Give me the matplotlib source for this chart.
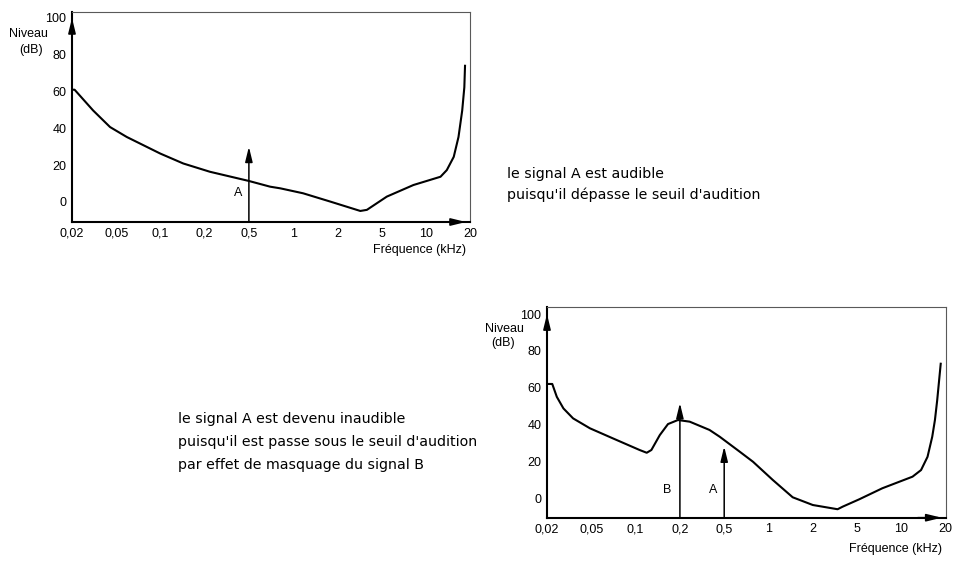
import numpy as np
import matplotlib
matplotlib.use("Agg")
import matplotlib.pyplot as plt

# axis ticks (kHz), evenly spaced on the drawing
FREQ_TICKS = [0.02, 0.05, 0.1, 0.2, 0.5, 1, 2, 5, 10, 20]
FREQ_LABELS = ["0,02", "0,05", "0,1", "0,2", "0,5", "1", "2", "5", "10", "20"]
LEVEL_TICKS = [0, 20, 40, 60, 80, 100]

# hearing threshold alone (top chart)
seuil_f = [0.02, 0.0211, 0.031, 0.044, 0.059, 0.0997, 0.143, 0.223, 0.5, 0.697,
           0.818, 1.17, 1.79, 3.22, 3.69, 5.43, 8.24, 12.6, 13.9, 15.5, 16.7,
           17.7, 18.3, 18.5]
seuil_db = [61, 61, 49.7, 40.7, 35.3, 26.3, 20.9, 16.4, 11.4, 8.3,
            7.4, 4.7, 0.2, -4.9, -4.3, 2.9, 9.2, 13.7, 17.3, 24.5, 35.3,
            49.7, 62.3, 74]

# threshold masked by signal B (bottom chart)
masque_f = [0.02, 0.0223, 0.0245, 0.0281, 0.0343, 0.0486, 0.0702, 0.1065, 0.119,
            0.128, 0.146, 0.166, 0.194, 0.245, 0.369, 0.456, 0.637, 0.785, 1.07,
            1.46, 2.0, 3.34, 3.71, 5.17, 7.42, 11.9, 13.6, 15.05, 16.2, 16.9,
            17.5, 18.5]
masque_db = [62, 62, 55, 48.7, 43.3, 37.9, 32.4, 26.1, 24.6,
             26.1, 34.2, 40.2, 42.4, 41.5, 37, 33.3, 25.2, 19.7, 9.8,
             0.4, -3.8, -6.1, -4.7, -0.7, 5.3, 11.6, 15.2, 22.4, 33.3, 42.4,
             53, 73]

# signals: (name, freq kHz, level dB, label x kHz, label y dB)
signaux_haut = [("A", 0.5, 30, 0.4, 5)]
signaux_bas = [("B", 0.2, 51.6, 0.165, 4.3), ("A", 0.5, 28, 0.394, 4.3)]

LOG_T = np.log10(FREQ_TICKS)
IDX = np.arange(len(FREQ_TICKS))


def fwd(f):
    f = np.clip(np.asarray(f, dtype=float), 1e-6, None)
    return np.interp(np.log10(f), LOG_T, IDX)


def inv(i):
    return 10 ** np.interp(np.asarray(i, dtype=float), IDX, LOG_T)


AX_FONT = "Liberation Sans"
TXT_FONT = "DejaVu Sans"
ARROW = "-|>,head_length=0.9,head_width=0.22"
FS = 9


def courbe(ax, f, db, signaux, ymin, ymax):
    ax.set_xscale("function", functions=(fwd, inv))
    ax.set_xlim(FREQ_TICKS[0], FREQ_TICKS[-1])
    ax.set_ylim(ymin, ymax)
    ax.plot(f, db, color="black", lw=1.5, solid_joinstyle="round")

    for nom, fx, lvl, lx, ly in signaux:
        ax.annotate("", xy=(fx, lvl), xytext=(fx, ymin),
                    arrowprops=dict(arrowstyle=ARROW, color="black", lw=1.1,
                                    shrinkA=0, shrinkB=0, mutation_scale=10))
        ax.text(lx, ly, nom, ha="center", va="center", fontsize=FS, family=AX_FONT)

    ax.set_xticks(FREQ_TICKS)
    ax.set_xticklabels(FREQ_LABELS)
    ax.set_yticks(LEVEL_TICKS)
    ax.tick_params(length=0, labelsize=FS, pad=4)
    ax.xaxis.minorticks_off()
    for lab in ax.get_xticklabels() + ax.get_yticklabels():
        lab.set_family(AX_FONT)

    for s in ["left", "bottom"]:
        ax.spines[s].set_linewidth(1.5)
    for s in ["top", "right"]:
        ax.spines[s].set_linewidth(0.8)
        ax.spines[s].set_color("0.35")

    # axis arrows
    ax.annotate("", xy=(0.99, 0), xytext=(0.93, 0), xycoords="axes fraction",
                arrowprops=dict(arrowstyle=ARROW, color="black", lw=1.2,
                                shrinkA=0, shrinkB=0, mutation_scale=10))
    ax.annotate("", xy=(0, 100), xytext=(0, 92),
                xycoords=("axes fraction", "data"), textcoords=("axes fraction", "data"),
                arrowprops=dict(arrowstyle=ARROW, color="black", lw=1.2,
                                shrinkA=0, shrinkB=0, mutation_scale=10))


W, H = 958, 561
fig = plt.figure(figsize=(W / 100, H / 100), dpi=100)


def px(x, y):
    return x / W, 1 - y / H


# top chart
ax1 = fig.add_axes([72 / W, 1 - 222 / H, 398 / W, 210.5 / H])
courbe(ax1, seuil_f, seuil_db, signaux_haut, -10.9, 103.5)

# bottom chart
ax2 = fig.add_axes([547 / W, 1 - 517.7 / H, 398.7 / W, 211 / H])
courbe(ax2, masque_f, masque_db, signaux_bas, -10.7, 104)

# axis titles
for (nx, ny), (dx, dy), (fx, fy) in [((28, 34), (31, 50), (466, 250)),
                                     ((504, 329), (503, 343), (942, 549))]:
    fig.text(*px(nx, ny), "Niveau", ha="center", va="center", fontsize=FS, family=AX_FONT)
    fig.text(*px(dx, dy), "(dB)", ha="center", va="center", fontsize=FS, family=AX_FONT)
    fig.text(*px(fx, fy), "Fréquence (kHz)", ha="right", va="center",
             fontsize=FS, family=AX_FONT)

# comments
TXT = dict(ha="left", va="center", fontsize=10.2, family=TXT_FONT)
fig.text(*px(507, 174), "le signal A est audible", **TXT)
fig.text(*px(507, 195), "puisqu'il dépasse le seuil d'audition", **TXT)

fig.text(*px(178, 419), "le signal A est devenu inaudible", **TXT)
fig.text(*px(178, 442), "puisqu'il est passe sous le seuil d'audition", **TXT)
fig.text(*px(178, 465), "par effet de masquage du signal B", **TXT)

fig.savefig("out.png", dpi=100)
